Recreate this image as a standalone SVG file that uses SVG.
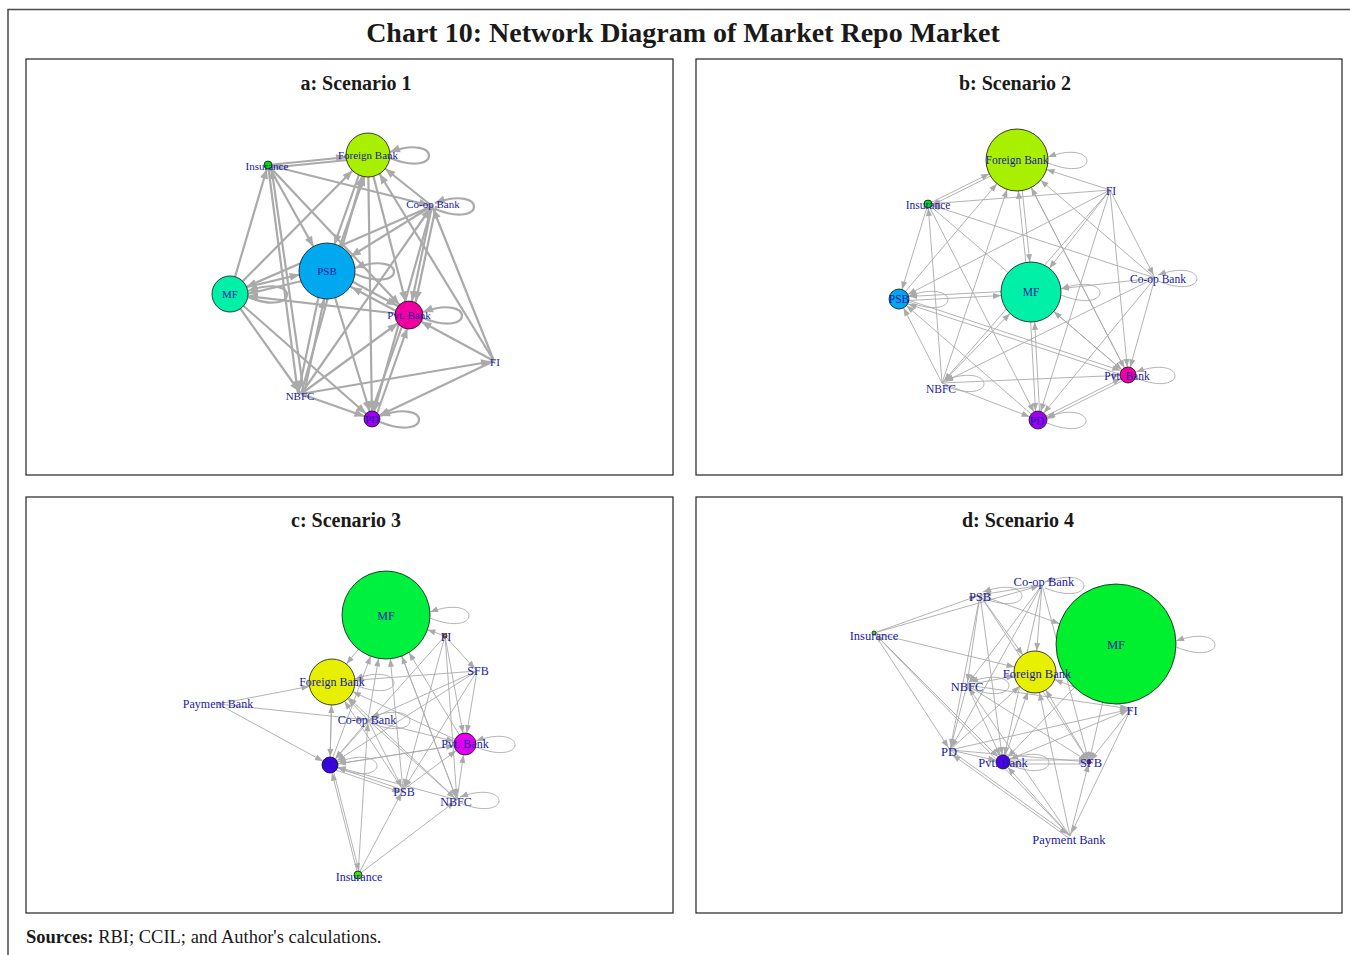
<svg xmlns="http://www.w3.org/2000/svg" width="1350" height="955" viewBox="0 0 1350 955">
<style>
.frame{fill:none;stroke:#4a4a4a;stroke-width:1.5}
.panel{fill:#fff;stroke:#333;stroke-width:1.3}
.title{font-family:"Liberation Serif",serif;font-weight:bold;font-size:28px;fill:#1a1a1a;text-anchor:middle}
.ptitle{font-family:"Liberation Serif",serif;font-weight:bold;font-size:20px;fill:#1a1a1a;text-anchor:middle}
.src{font-family:"Liberation Serif",serif;font-size:18.5px;fill:#1a1a1a}
.ea line,.ea path{stroke:#aaaaaa;stroke-width:2.2;fill:none}
.eb line,.eb path{stroke:#aaaaaa;stroke-width:0.9;fill:none}
.mk{fill:#aaaaaa}
.nd{stroke:#111;stroke-width:0.8}
.la{font-family:"Liberation Serif",serif;font-size:11px;fill:#1a1aa0;text-anchor:middle}
.lb{font-family:"Liberation Serif",serif;font-size:11.5px;fill:#1a1aa0;text-anchor:middle}
.lc{font-family:"Liberation Serif",serif;font-size:12px;fill:#1a1aa0;text-anchor:middle}
.ld{font-family:"Liberation Serif",serif;font-size:12.5px;fill:#1a1aa0;text-anchor:middle}
</style>
<defs>
<marker id="ta0" markerUnits="userSpaceOnUse" markerWidth="10" markerHeight="8" refX="13" refY="4" orient="auto" overflow="visible"><path class="mk" d="M0,0L10,4L0,8z"/></marker>
<marker id="ta4" markerUnits="userSpaceOnUse" markerWidth="10" markerHeight="8" refX="14" refY="4" orient="auto" overflow="visible"><path class="mk" d="M0,0L10,4L0,8z"/></marker>
<marker id="ta8" markerUnits="userSpaceOnUse" markerWidth="10" markerHeight="8" refX="18" refY="4" orient="auto" overflow="visible"><path class="mk" d="M0,0L10,4L0,8z"/></marker>
<marker id="ta14" markerUnits="userSpaceOnUse" markerWidth="10" markerHeight="8" refX="24" refY="4" orient="auto" overflow="visible"><path class="mk" d="M0,0L10,4L0,8z"/></marker>
<marker id="ta18" markerUnits="userSpaceOnUse" markerWidth="10" markerHeight="8" refX="28" refY="4" orient="auto" overflow="visible"><path class="mk" d="M0,0L10,4L0,8z"/></marker>
<marker id="ta22" markerUnits="userSpaceOnUse" markerWidth="10" markerHeight="8" refX="32" refY="4" orient="auto" overflow="visible"><path class="mk" d="M0,0L10,4L0,8z"/></marker>
<marker id="ta28" markerUnits="userSpaceOnUse" markerWidth="10" markerHeight="8" refX="38" refY="4" orient="auto" overflow="visible"><path class="mk" d="M0,0L10,4L0,8z"/></marker>
<marker id="tl" markerUnits="userSpaceOnUse" markerWidth="10" markerHeight="8" refX="10" refY="4" orient="auto" overflow="visible"><path class="mk" d="M0,0L10,4L0,8z"/></marker>
<marker id="b0" markerUnits="userSpaceOnUse" markerWidth="8" markerHeight="6" refX="11" refY="3" orient="auto" overflow="visible"><path class="mk" d="M0,0L8,3L0,6z"/></marker>
<marker id="b2" markerUnits="userSpaceOnUse" markerWidth="8" markerHeight="6" refX="10" refY="3" orient="auto" overflow="visible"><path class="mk" d="M0,0L8,3L0,6z"/></marker>
<marker id="b4" markerUnits="userSpaceOnUse" markerWidth="8" markerHeight="6" refX="12" refY="3" orient="auto" overflow="visible"><path class="mk" d="M0,0L8,3L0,6z"/></marker>
<marker id="b7" markerUnits="userSpaceOnUse" markerWidth="8" markerHeight="6" refX="15" refY="3" orient="auto" overflow="visible"><path class="mk" d="M0,0L8,3L0,6z"/></marker>
<marker id="b8" markerUnits="userSpaceOnUse" markerWidth="8" markerHeight="6" refX="16" refY="3" orient="auto" overflow="visible"><path class="mk" d="M0,0L8,3L0,6z"/></marker>
<marker id="b9" markerUnits="userSpaceOnUse" markerWidth="8" markerHeight="6" refX="17" refY="3" orient="auto" overflow="visible"><path class="mk" d="M0,0L8,3L0,6z"/></marker>
<marker id="b10" markerUnits="userSpaceOnUse" markerWidth="8" markerHeight="6" refX="18" refY="3" orient="auto" overflow="visible"><path class="mk" d="M0,0L8,3L0,6z"/></marker>
<marker id="b11" markerUnits="userSpaceOnUse" markerWidth="8" markerHeight="6" refX="19" refY="3" orient="auto" overflow="visible"><path class="mk" d="M0,0L8,3L0,6z"/></marker>
<marker id="b21" markerUnits="userSpaceOnUse" markerWidth="8" markerHeight="6" refX="29" refY="3" orient="auto" overflow="visible"><path class="mk" d="M0,0L8,3L0,6z"/></marker>
<marker id="b23" markerUnits="userSpaceOnUse" markerWidth="8" markerHeight="6" refX="31" refY="3" orient="auto" overflow="visible"><path class="mk" d="M0,0L8,3L0,6z"/></marker>
<marker id="b30" markerUnits="userSpaceOnUse" markerWidth="8" markerHeight="6" refX="38" refY="3" orient="auto" overflow="visible"><path class="mk" d="M0,0L8,3L0,6z"/></marker>
<marker id="b31" markerUnits="userSpaceOnUse" markerWidth="8" markerHeight="6" refX="39" refY="3" orient="auto" overflow="visible"><path class="mk" d="M0,0L8,3L0,6z"/></marker>
<marker id="b44" markerUnits="userSpaceOnUse" markerWidth="8" markerHeight="6" refX="52" refY="3" orient="auto" overflow="visible"><path class="mk" d="M0,0L8,3L0,6z"/></marker>
<marker id="b60" markerUnits="userSpaceOnUse" markerWidth="8" markerHeight="6" refX="68" refY="3" orient="auto" overflow="visible"><path class="mk" d="M0,0L8,3L0,6z"/></marker>
<marker id="bl" markerUnits="userSpaceOnUse" markerWidth="8" markerHeight="6" refX="8" refY="3" orient="auto" overflow="visible"><path class="mk" d="M0,0L8,3L0,6z"/></marker>
</defs>

<rect width="1350" height="955" fill="#fff"/>
<path class="frame" d="M8,955V9.5H1350"/>
<text class="title" x="683" y="42">Chart 10: Network Diagram of Market Repo Market</text>

<rect class="panel" x="26" y="59" width="647" height="416"/>
<rect class="panel" x="696" y="59" width="646" height="416"/>
<rect class="panel" x="26" y="497" width="647" height="416"/>
<rect class="panel" x="696" y="497" width="646" height="416"/>
<text class="ptitle" x="356" y="90">a: Scenario 1</text>
<text class="ptitle" x="1015" y="90">b: Scenario 2</text>
<text class="ptitle" x="346" y="527">c: Scenario 3</text>
<text class="ptitle" x="1018" y="527">d: Scenario 4</text>

<g id="connectors">
<g id="edges-a" class="ea">
<line x1="268" y1="165" x2="368" y2="155" marker-end="url(#ta22)"/>
<line x1="368" y1="158" x2="268" y2="168" marker-end="url(#ta4)"/>
<line x1="268" y1="165" x2="432" y2="206" marker-end="url(#ta0)"/>
<line x1="432" y1="206" x2="368" y2="155" marker-end="url(#ta22)"/>
<line x1="494" y1="361" x2="368" y2="155" marker-end="url(#ta22)"/>
<line x1="494" y1="361" x2="432" y2="206" marker-end="url(#ta0)"/>
<line x1="494" y1="361" x2="409" y2="315" marker-end="url(#ta14)"/>
<line x1="494" y1="361" x2="372" y2="419" marker-end="url(#ta8)"/>
<line x1="301" y1="394" x2="494" y2="361" marker-end="url(#ta0)"/>
<line x1="230" y1="294" x2="268" y2="165" marker-end="url(#ta4)"/>
<line x1="230" y1="294" x2="368" y2="155" marker-end="url(#ta22)"/>
<line x1="230" y1="291" x2="327" y2="268" marker-end="url(#ta28)"/>
<line x1="327" y1="275" x2="230" y2="298" marker-end="url(#ta18)"/>
<line x1="409" y1="315" x2="230" y2="294" marker-end="url(#ta18)"/>
<line x1="230" y1="294" x2="301" y2="394" marker-end="url(#ta0)"/>
<line x1="230" y1="294" x2="372" y2="419" marker-end="url(#ta8)"/>
<line x1="268" y1="165" x2="327" y2="271" marker-end="url(#ta28)"/>
<line x1="268" y1="165" x2="409" y2="315" marker-end="url(#ta14)"/>
<line x1="268" y1="165" x2="298" y2="394" marker-end="url(#ta0)"/>
<line x1="304" y1="394" x2="271" y2="165" marker-end="url(#ta4)"/>
<line x1="366" y1="155" x2="325" y2="271" marker-end="url(#ta28)"/>
<line x1="331" y1="271" x2="372" y2="155" marker-end="url(#ta22)"/>
<line x1="432" y1="206" x2="327" y2="271" marker-end="url(#ta28)"/>
<line x1="432" y1="206" x2="230" y2="294" marker-end="url(#ta18)"/>
<line x1="432" y1="206" x2="409" y2="315" marker-end="url(#ta14)"/>
<line x1="436" y1="206" x2="413" y2="315" marker-end="url(#ta14)"/>
<line x1="432" y1="206" x2="372" y2="419" marker-end="url(#ta8)"/>
<line x1="301" y1="394" x2="432" y2="206" marker-end="url(#ta0)"/>
<line x1="368" y1="155" x2="409" y2="315" marker-end="url(#ta14)"/>
<line x1="368" y1="155" x2="372" y2="419" marker-end="url(#ta8)"/>
<line x1="301" y1="394" x2="368" y2="155" marker-end="url(#ta22)"/>
<line x1="327" y1="268" x2="409" y2="312" marker-end="url(#ta14)"/>
<line x1="409" y1="318" x2="327" y2="274" marker-end="url(#ta28)"/>
<line x1="324" y1="271" x2="298" y2="394" marker-end="url(#ta0)"/>
<line x1="304" y1="394" x2="330" y2="271" marker-end="url(#ta28)"/>
<line x1="327" y1="271" x2="372" y2="419" marker-end="url(#ta8)"/>
<line x1="301" y1="394" x2="409" y2="315" marker-end="url(#ta14)"/>
<line x1="301" y1="394" x2="372" y2="419" marker-end="url(#ta8)"/>
<line x1="406" y1="315" x2="369" y2="419" marker-end="url(#ta8)"/>
<line x1="375" y1="419" x2="412" y2="315" marker-end="url(#ta14)"/>
<path d="M390,158C442,179 442,133 390,152" marker-end="url(#tl)"/>
<path d="M435,209C487,230 487,184 435,203" marker-end="url(#tl)"/>
<path d="M355,274C407,295 407,249 355,268" marker-end="url(#tl)"/>
<path d="M248,297C300,318 300,272 248,291" marker-end="url(#tl)"/>
<path d="M423,318C475,339 475,293 423,312" marker-end="url(#tl)"/>
<path d="M380,422C432,443 432,397 380,416" marker-end="url(#tl)"/>
</g>

<g id="edges-b" class="eb">
<line x1="928" y1="204" x2="1017" y2="160" marker-end="url(#b31)"/>
<line x1="1017" y1="163" x2="928" y2="207" marker-end="url(#b4)"/>
<line x1="1110" y1="190" x2="1017" y2="160" marker-end="url(#b31)"/>
<line x1="1110" y1="190" x2="928" y2="204" marker-end="url(#b4)"/>
<line x1="1155" y1="278" x2="928" y2="204" marker-end="url(#b4)"/>
<line x1="1155" y1="278" x2="1017" y2="160" marker-end="url(#b31)"/>
<line x1="1029" y1="292" x2="1015" y2="160" marker-end="url(#b31)"/>
<line x1="1019" y1="160" x2="1033" y2="292" marker-end="url(#b30)"/>
<line x1="899" y1="299" x2="1017" y2="160" marker-end="url(#b31)"/>
<line x1="942" y1="383" x2="1017" y2="160" marker-end="url(#b31)"/>
<line x1="1128" y1="375" x2="1017" y2="160" marker-end="url(#b31)"/>
<line x1="1110" y1="190" x2="899" y2="299" marker-end="url(#b10)"/>
<line x1="928" y1="204" x2="899" y2="299" marker-end="url(#b10)"/>
<line x1="942" y1="383" x2="928" y2="204" marker-end="url(#b4)"/>
<line x1="1155" y1="278" x2="1031" y2="292" marker-end="url(#b30)"/>
<line x1="1031" y1="290" x2="899" y2="297" marker-end="url(#b10)"/>
<line x1="899" y1="301" x2="1031" y2="294" marker-end="url(#b30)"/>
<line x1="1110" y1="190" x2="1031" y2="292" marker-end="url(#b30)"/>
<line x1="1110" y1="190" x2="942" y2="383" marker-end="url(#b0)"/>
<line x1="1110" y1="190" x2="1128" y2="375" marker-end="url(#b8)"/>
<line x1="1110" y1="190" x2="1038" y2="420" marker-end="url(#b9)"/>
<line x1="1110" y1="190" x2="1155" y2="278" marker-end="url(#b0)"/>
<line x1="1155" y1="278" x2="1128" y2="375" marker-end="url(#b8)"/>
<line x1="1155" y1="278" x2="1038" y2="420" marker-end="url(#b9)"/>
<line x1="1155" y1="278" x2="942" y2="383" marker-end="url(#b0)"/>
<line x1="1017" y1="160" x2="1128" y2="375" marker-end="url(#b8)"/>
<line x1="928" y1="204" x2="1038" y2="420" marker-end="url(#b9)"/>
<line x1="928" y1="204" x2="1128" y2="375" marker-end="url(#b8)"/>
<line x1="899" y1="297" x2="1128" y2="373" marker-end="url(#b8)"/>
<line x1="1128" y1="377" x2="899" y2="301" marker-end="url(#b10)"/>
<line x1="942" y1="383" x2="899" y2="299" marker-end="url(#b10)"/>
<line x1="1038" y1="420" x2="899" y2="299" marker-end="url(#b10)"/>
<line x1="942" y1="383" x2="1128" y2="375" marker-end="url(#b8)"/>
<line x1="942" y1="383" x2="1038" y2="420" marker-end="url(#b9)"/>
<line x1="1038" y1="420" x2="1128" y2="375" marker-end="url(#b8)"/>
<line x1="1128" y1="378" x2="1038" y2="423" marker-end="url(#b9)"/>
<line x1="1029" y1="292" x2="1036" y2="420" marker-end="url(#b9)"/>
<line x1="1040" y1="420" x2="1033" y2="292" marker-end="url(#b30)"/>
<line x1="1128" y1="375" x2="1031" y2="292" marker-end="url(#b30)"/>
<line x1="942" y1="383" x2="1031" y2="292" marker-end="url(#b30)"/>
<path d="M1048,163C1100,184 1100,138 1048,157" marker-end="url(#bl)"/>
<path d="M1158,281C1210,302 1210,256 1158,275" marker-end="url(#bl)"/>
<path d="M909,302C961,323 961,277 909,296" marker-end="url(#bl)"/>
<path d="M1061,295C1113,316 1113,270 1061,289" marker-end="url(#bl)"/>
<path d="M1136,378C1188,399 1188,353 1136,372" marker-end="url(#bl)"/>
<path d="M945,386C997,407 997,361 945,380" marker-end="url(#bl)"/>
<path d="M1047,423C1099,444 1099,398 1047,417" marker-end="url(#bl)"/>
</g>

<g id="edges-c" class="eb">
<line x1="218" y1="704" x2="332" y2="682" marker-end="url(#b23)"/>
<line x1="218" y1="704" x2="330" y2="765" marker-end="url(#b8)"/>
<line x1="218" y1="704" x2="368" y2="720" marker-end="url(#b0)"/>
<line x1="358" y1="875" x2="330" y2="765" marker-end="url(#b8)"/>
<line x1="332" y1="765" x2="360" y2="875" marker-end="url(#b4)"/>
<line x1="358" y1="875" x2="368" y2="720" marker-end="url(#b0)"/>
<line x1="358" y1="875" x2="403" y2="790" marker-end="url(#b0)"/>
<line x1="358" y1="875" x2="457" y2="800" marker-end="url(#b0)"/>
<line x1="445" y1="636" x2="386" y2="615" marker-end="url(#b44)"/>
<line x1="477" y1="671" x2="332" y2="682" marker-end="url(#b23)"/>
<line x1="477" y1="671" x2="368" y2="720" marker-end="url(#b0)"/>
<line x1="477" y1="671" x2="330" y2="765" marker-end="url(#b8)"/>
<line x1="445" y1="636" x2="330" y2="765" marker-end="url(#b8)"/>
<line x1="445" y1="636" x2="465" y2="744" marker-end="url(#b11)"/>
<line x1="445" y1="636" x2="477" y2="671" marker-end="url(#b0)"/>
<line x1="403" y1="790" x2="386" y2="615" marker-end="url(#b44)"/>
<line x1="368" y1="720" x2="386" y2="615" marker-end="url(#b44)"/>
<line x1="330" y1="765" x2="386" y2="615" marker-end="url(#b44)"/>
<line x1="457" y1="800" x2="386" y2="615" marker-end="url(#b44)"/>
<line x1="465" y1="744" x2="386" y2="615" marker-end="url(#b44)"/>
<line x1="386" y1="615" x2="332" y2="682" marker-end="url(#b23)"/>
<line x1="368" y1="720" x2="332" y2="682" marker-end="url(#b23)"/>
<line x1="330" y1="765" x2="332" y2="682" marker-end="url(#b23)"/>
<line x1="403" y1="790" x2="332" y2="682" marker-end="url(#b23)"/>
<line x1="465" y1="744" x2="332" y2="682" marker-end="url(#b23)"/>
<line x1="457" y1="800" x2="332" y2="682" marker-end="url(#b23)"/>
<line x1="368" y1="720" x2="330" y2="765" marker-end="url(#b8)"/>
<line x1="403" y1="790" x2="330" y2="765" marker-end="url(#b8)"/>
<line x1="457" y1="800" x2="330" y2="765" marker-end="url(#b8)"/>
<line x1="465" y1="744" x2="330" y2="765" marker-end="url(#b8)"/>
<line x1="332" y1="682" x2="330" y2="765" marker-end="url(#b8)"/>
<line x1="368" y1="720" x2="465" y2="744" marker-end="url(#b11)"/>
<line x1="403" y1="790" x2="465" y2="744" marker-end="url(#b11)"/>
<line x1="457" y1="800" x2="465" y2="744" marker-end="url(#b11)"/>
<line x1="477" y1="671" x2="465" y2="744" marker-end="url(#b11)"/>
<line x1="330" y1="765" x2="465" y2="744" marker-end="url(#b11)"/>
<line x1="368" y1="720" x2="403" y2="790" marker-end="url(#b0)"/>
<line x1="368" y1="720" x2="457" y2="800" marker-end="url(#b0)"/>
<line x1="386" y1="615" x2="457" y2="800" marker-end="url(#b0)"/>
<line x1="477" y1="671" x2="403" y2="790" marker-end="url(#b0)"/>
<line x1="445" y1="636" x2="403" y2="790" marker-end="url(#b0)"/>
<line x1="445" y1="636" x2="457" y2="800" marker-end="url(#b0)"/>
<line x1="330" y1="768" x2="403" y2="793" marker-end="url(#b0)"/>
<path d="M430,618C482,639 482,593 430,612" marker-end="url(#bl)"/>
<path d="M355,685C407,706 407,660 355,679" marker-end="url(#bl)"/>
<path d="M371,723C423,744 423,698 371,717" marker-end="url(#bl)"/>
<path d="M476,747C528,768 528,722 476,741" marker-end="url(#bl)"/>
<path d="M338,768C390,789 390,743 338,762" marker-end="url(#bl)"/>
<path d="M460,803C512,824 512,778 460,797" marker-end="url(#bl)"/>
</g>

<g id="edges-d" class="eb">
<line x1="874" y1="633" x2="980" y2="595" marker-end="url(#b0)"/>
<line x1="874" y1="633" x2="1042" y2="585" marker-end="url(#b0)"/>
<line x1="874" y1="633" x2="1035" y2="672" marker-end="url(#b21)"/>
<line x1="874" y1="633" x2="950" y2="750" marker-end="url(#b0)"/>
<line x1="874" y1="633" x2="1003" y2="762" marker-end="url(#b7)"/>
<line x1="1070" y1="836" x2="874" y2="633" marker-end="url(#b2)"/>
<line x1="980" y1="595" x2="1035" y2="672" marker-end="url(#b21)"/>
<line x1="1042" y1="585" x2="1035" y2="672" marker-end="url(#b21)"/>
<line x1="967" y1="685" x2="1035" y2="672" marker-end="url(#b21)"/>
<line x1="950" y1="750" x2="1035" y2="672" marker-end="url(#b21)"/>
<line x1="1003" y1="762" x2="1035" y2="672" marker-end="url(#b21)"/>
<line x1="1089" y1="762" x2="1035" y2="672" marker-end="url(#b21)"/>
<line x1="1070" y1="836" x2="1035" y2="672" marker-end="url(#b21)"/>
<line x1="1131" y1="709" x2="1035" y2="672" marker-end="url(#b21)"/>
<line x1="1042" y1="585" x2="967" y2="685" marker-end="url(#b0)"/>
<line x1="1042" y1="585" x2="950" y2="750" marker-end="url(#b0)"/>
<line x1="1042" y1="585" x2="1003" y2="762" marker-end="url(#b7)"/>
<line x1="1042" y1="585" x2="1089" y2="762" marker-end="url(#b2)"/>
<line x1="1042" y1="585" x2="980" y2="595" marker-end="url(#b0)"/>
<line x1="980" y1="595" x2="967" y2="685" marker-end="url(#b0)"/>
<line x1="980" y1="595" x2="950" y2="750" marker-end="url(#b0)"/>
<line x1="980" y1="595" x2="1003" y2="762" marker-end="url(#b7)"/>
<line x1="980" y1="595" x2="1089" y2="762" marker-end="url(#b2)"/>
<line x1="980" y1="595" x2="1116" y2="644" marker-end="url(#b60)"/>
<line x1="967" y1="685" x2="950" y2="750" marker-end="url(#b0)"/>
<line x1="967" y1="685" x2="1003" y2="762" marker-end="url(#b7)"/>
<line x1="967" y1="685" x2="1089" y2="762" marker-end="url(#b2)"/>
<line x1="967" y1="685" x2="1131" y2="709" marker-end="url(#b0)"/>
<line x1="950" y1="750" x2="1003" y2="762" marker-end="url(#b7)"/>
<line x1="950" y1="750" x2="1089" y2="762" marker-end="url(#b2)"/>
<line x1="950" y1="750" x2="1131" y2="709" marker-end="url(#b0)"/>
<line x1="950" y1="750" x2="1070" y2="836" marker-end="url(#b0)"/>
<line x1="1003" y1="760" x2="1089" y2="760" marker-end="url(#b2)"/>
<line x1="1089" y1="764" x2="1003" y2="764" marker-end="url(#b7)"/>
<line x1="1003" y1="762" x2="1131" y2="709" marker-end="url(#b0)"/>
<line x1="1131" y1="709" x2="1089" y2="762" marker-end="url(#b2)"/>
<line x1="1131" y1="709" x2="1070" y2="836" marker-end="url(#b0)"/>
<line x1="1116" y1="644" x2="1089" y2="762" marker-end="url(#b2)"/>
<line x1="1116" y1="644" x2="1003" y2="762" marker-end="url(#b7)"/>
<line x1="1070" y1="836" x2="1003" y2="762" marker-end="url(#b7)"/>
<line x1="1070" y1="836" x2="1089" y2="762" marker-end="url(#b2)"/>
<line x1="1070" y1="839" x2="950" y2="753" marker-end="url(#b0)"/>
<line x1="1070" y1="836" x2="967" y2="685" marker-end="url(#b0)"/>
<path d="M1176,647C1228,668 1228,622 1176,641" marker-end="url(#bl)"/>
<path d="M1045,588C1097,609 1097,563 1045,582" marker-end="url(#bl)"/>
<path d="M983,598C1035,619 1035,573 983,592" marker-end="url(#bl)"/>
<path d="M970,688C1022,709 1022,663 970,682" marker-end="url(#bl)"/>
<path d="M1010,765C1062,786 1062,740 1010,759" marker-end="url(#bl)"/>
</g>
</g>

<!-- Panel a nodes -->
<g id="a-foreign-bank"><circle class="nd" cx="368" cy="155" r="22" fill="#a8f000"/><text class="la" x="368" y="159">Foreign Bank</text></g>
<g id="a-insurance"><circle class="nd" cx="268" cy="165" r="4" fill="#00e000"/><text class="la" x="267" y="170">Insurance</text></g>
<g id="a-coop-bank"><text class="la" x="433" y="208">Co-op Bank</text></g>
<g id="a-psb"><circle class="nd" cx="327" cy="271" r="28" fill="#00a8f0"/><text class="la" x="327" y="275">PSB</text></g>
<g id="a-mf"><circle class="nd" cx="230" cy="294" r="18" fill="#00f0a8"/><text class="la" x="230" y="298">MF</text></g>
<g id="a-pvt-bank"><circle class="nd" cx="409" cy="315" r="14" fill="#f000a0"/><text class="la" x="409" y="319">Pvt. Bank</text></g>
<g id="a-fi"><text class="la" x="495" y="366">FI</text></g>
<g id="a-nbfc"><text class="la" x="300" y="400">NBFC</text></g>
<g id="a-pd"><circle class="nd" cx="372" cy="419" r="8" fill="#a000f0"/><text class="la" x="372" y="423">PD</text></g>

<!-- Panel b nodes -->
<g id="b-foreign-bank"><circle class="nd" cx="1017" cy="160" r="31" fill="#a8f000"/><text class="lb" x="1017" y="164">Foreign Bank</text></g>
<g id="b-insurance"><circle class="nd" cx="928" cy="204" r="4" fill="#00e000"/><text class="lb" x="928" y="209">Insurance</text></g>
<g id="b-fi"><text class="lb" x="1111" y="195">FI</text></g>
<g id="b-coop-bank"><text class="lb" x="1158" y="283">Co-op Bank</text></g>
<g id="b-psb"><circle class="nd" cx="899" cy="299" r="10" fill="#00a8f0"/><text class="lb" x="899" y="303">PSB</text></g>
<g id="b-mf"><circle class="nd" cx="1031" cy="292" r="30" fill="#00f0a8"/><text class="lb" x="1031" y="296">MF</text></g>
<g id="b-pvt-bank"><circle class="nd" cx="1128" cy="375" r="8" fill="#f000a0"/><text class="lb" x="1127" y="380">Pvt. Bank</text></g>
<g id="b-nbfc"><text class="lb" x="941" y="393">NBFC</text></g>
<g id="b-pd"><circle class="nd" cx="1038" cy="420" r="9" fill="#a000f0"/><text class="lb" x="1037" y="425">PD</text></g>

<!-- Panel c nodes -->
<g id="c-mf"><circle class="nd" cx="386" cy="615" r="44" fill="#00f040"/><text class="lc" x="386" y="620">MF</text></g>
<g id="c-fi"><circle class="nd" cx="445" cy="636" r="2" fill="#f08000"/><text class="lc" x="446" y="641">FI</text></g>
<g id="c-sfb"><text class="lc" x="478" y="675">SFB</text></g>
<g id="c-foreign-bank"><circle class="nd" cx="332" cy="682" r="23" fill="#e6f000"/><text class="lc" x="332" y="686">Foreign Bank</text></g>
<g id="c-payment-bank"><text class="lc" x="218" y="708">Payment Bank</text></g>
<g id="c-coop-bank"><text class="lc" x="367" y="724">Co-op Bank</text></g>
<g id="c-pvt-bank"><circle class="nd" cx="465" cy="744" r="11" fill="#e000f0"/><text class="lc" x="465" y="748">Pvt. Bank</text></g>
<g id="c-pd"><circle class="nd" cx="330" cy="765" r="8" fill="#4000f0"/><text class="lc" x="330" y="769">PD</text></g>
<g id="c-psb"><text class="lc" x="404" y="796">PSB</text></g>
<g id="c-nbfc"><text class="lc" x="456" y="806">NBFC</text></g>
<g id="c-insurance"><circle class="nd" cx="358" cy="875" r="4" fill="#40e000"/><text class="lc" x="359" y="881">Insurance</text></g>

<!-- Panel d nodes -->
<g id="d-coop-bank"><text class="ld" x="1044" y="586">Co-op Bank</text></g>
<g id="d-psb"><text class="ld" x="980" y="601">PSB</text></g>
<g id="d-insurance"><circle class="nd" cx="874" cy="633" r="2" fill="#40e000"/><text class="ld" x="874" y="640">Insurance</text></g>
<g id="d-mf"><circle class="nd" cx="1116" cy="644" r="60" fill="#00f030"/><text class="ld" x="1116" y="649">MF</text></g>
<g id="d-foreign-bank"><circle class="nd" cx="1035" cy="672" r="21" fill="#e6f000"/><text class="ld" x="1037" y="678">Foreign Bank</text></g>
<g id="d-nbfc"><text class="ld" x="967" y="691">NBFC</text></g>
<g id="d-fi"><text class="ld" x="1132" y="715">FI</text></g>
<g id="d-pd"><text class="ld" x="949" y="756">PD</text></g>
<g id="d-pvt-bank"><circle class="nd" cx="1003" cy="762" r="7" fill="#5000f0"/><text class="ld" x="1003" y="767">Pvt. Bank</text></g>
<g id="d-sfb"><circle class="nd" cx="1089" cy="762" r="2" fill="#e000e0"/><text class="ld" x="1091" y="767">SFB</text></g>
<g id="d-payment-bank"><text class="ld" x="1069" y="844">Payment Bank</text></g>

<text class="src" x="26" y="943"><tspan font-weight="bold">Sources:</tspan> RBI; CCIL; and Author's calculations.</text>
</svg>
